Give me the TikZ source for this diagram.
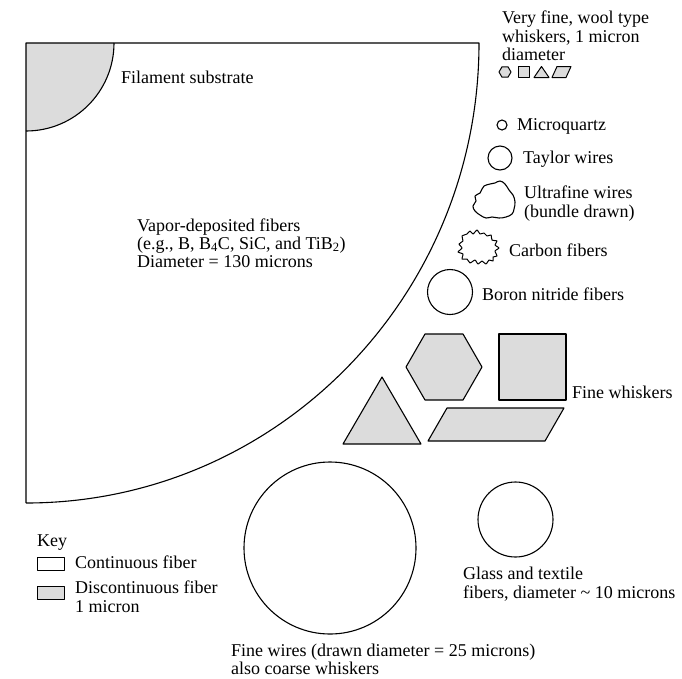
\documentclass[tikz,border=0pt]{standalone}
\usepackage{fontspec}
\setmainfont{Liberation Serif}
\begin{document}
\begin{tikzpicture}[x=1pt,y=-1pt,line join=round,
  shp/.style={draw=black,line width=1.1pt},
  gshp/.style={shp,fill=fibgray},
  lbl/.style={anchor=base west,inner sep=0pt,font=\fontsize{18}{19}\selectfont}]
\definecolor{fibgray}{RGB}{220,220,220}
\useasboundingbox (0,0) rectangle (682,678);
% large vapor-deposited fiber quarter
\fill[fibgray] (26,43) -- (114,43) arc[start angle=0,end angle=90,radius=88] -- cycle;
\draw[shp] (114,43) arc[start angle=0,end angle=90,radius=88];
\draw[shp] (26,503) -- (26,43) -- (479,43) arc[start angle=0,end angle=90,x radius=453,y radius=460];
\node[lbl] (fil) at (121,83) {Filament substrate};
\node[lbl] (vd1) at (137,231) {Vapor-deposited fibers};
\node[lbl] (vd2) at (137,249) {(e.g., B, B\textsubscript{4}C, SiC, and TiB\textsubscript{2})};
\node[lbl] (vd3) at (137,267) {Diameter = 130 microns};
% very fine whiskers
\node[lbl] (vf1) at (502,23) {Very fine, wool type};
\node[lbl] (vf2) at (502,42) {whiskers, 1 micron};
\node[lbl] (vf3) at (502,60) {diameter};
\draw[gshp,line width=1pt] (511,72) -- (508,77.2) -- (502,77.2) -- (499,72) -- (502,66.8) -- (508,66.8) -- cycle;
\draw[gshp,line width=1pt] (518,66.5) rectangle (529.5,77.5);
\draw[gshp,line width=1pt] (534,77.5) -- (541.5,66.5) -- (549,77.5) -- cycle;
\draw[gshp,line width=1pt] (557,66.5) -- (571,66.5) -- (566,77.5) -- (552,77.5) -- cycle;
% microquartz, taylor
\draw[shp] (502,125) circle[radius=5];
\node[lbl] (mq) at (517,130) {Microquartz};
\draw[shp] (500,158) circle[radius=12];
\node[lbl] (tw) at (523,163) {Taylor wires};
% ultrafine wires bundle
\draw[shp] plot[smooth cycle,tension=0.7] coordinates {
 (484,186) (490,184) (495,183) (500,181) (505,184) (509,190) (513,195) (515,202)
 (514,209) (512,214) (506,217) (499,218) (492,217) (486,218) (480,215) (475,211)
 (473,206) (476,201) (475,196) (480,193) (482,189)};
\node[lbl] (uf1) at (524,198) {Ultrafine wires};
\node[lbl] (uf2) at (524,217) {(bundle drawn)};
% carbon fibers (jagged)
\draw[shp,line width=1pt] plot[smooth cycle,tension=0.35] coordinates {
 (467,234) (470,231) (473,234) (477,230) (480,234) (484,233) (487,236) (491,235)
 (492,240) (497,241) (495,245) (499,248) (495,251) (497,256) (493,257) (493,261)
 (489,260) (486,264) (482,261) (478,264) (475,260) (470,263) (467,259) (462,259)
 (463,254) (458,252) (462,248) (459,244) (463,241) (462,236)};
\node[lbl] (cf) at (509,256) {Carbon fibers};
% boron nitride
\draw[shp] (450,292) circle[radius=22.5];
\node[lbl] (bn) at (482,300) {Boron nitride fibers};
% fine whiskers
\draw[gshp] (482,367) -- (463,400) -- (425,400) -- (406,367) -- (425,334) -- (463,334) -- cycle;
\draw[gshp] (499,334) rectangle (566,400);
\draw[gshp] (343,444) -- (382,377) -- (421,444) -- cycle;
\draw[gshp] (447,408) -- (564,408) -- (545,441) -- (428,441) -- cycle;
\node[lbl] (fw) at (572,398) {Fine whiskers};
% fine wires
\draw[shp] (330,548) circle[radius=86];
\node[lbl] (fw1) at (231,656) {Fine wires (drawn diameter = 25 microns)};
\node[lbl] (fw2) at (231,674) {also coarse whiskers};
% glass
\draw[shp] (515.5,519.5) circle[radius=37.5];
\node[lbl] (gl1) at (463,579) {Glass and textile};
\node[lbl] (gl2) at (463,598) {fibers, diameter \textasciitilde\ 10 microns};
% key
\node[lbl] (key) at (37,546) {Key};
\draw[shp,line width=1pt] (37,557) rectangle (64,570);
\node[lbl] (kc) at (75,568) {Continuous fiber};
\draw[gshp,line width=1pt] (37,586) rectangle (64,599);
\node[lbl] (kd1) at (75,593) {Discontinuous fiber};
\node[lbl] (kd2) at (75,612) {1 micron};
\end{tikzpicture}
\end{document}
